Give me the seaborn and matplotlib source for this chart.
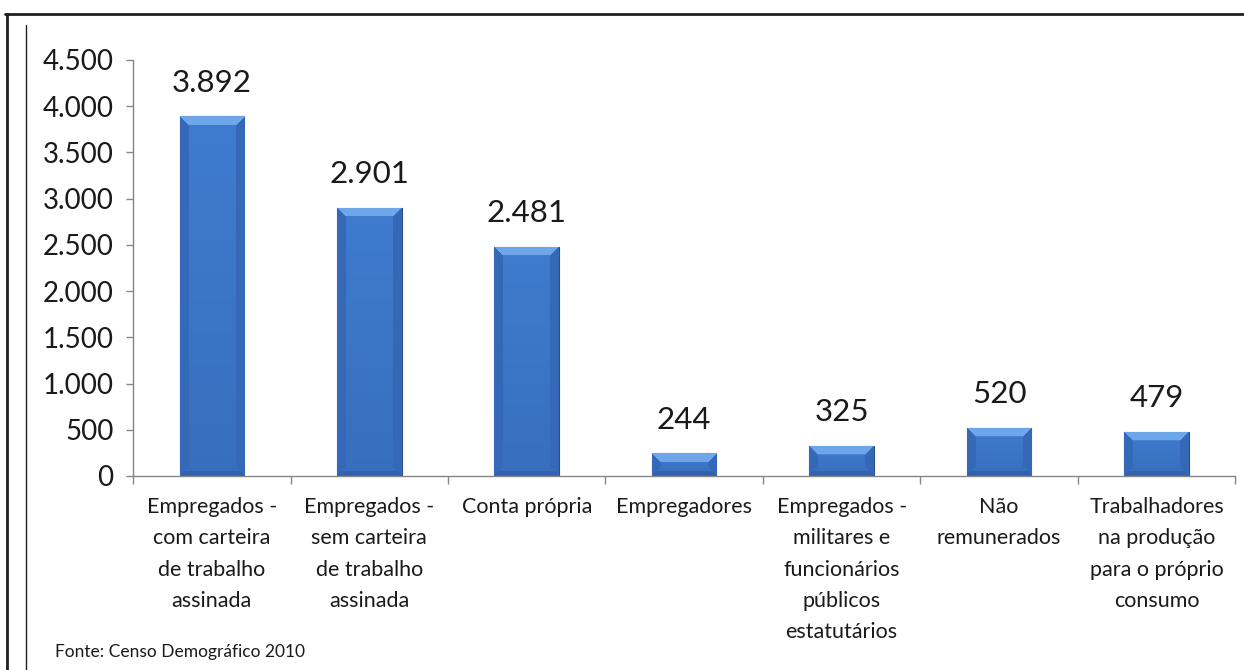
import numpy as np
import pandas as pd
import matplotlib
matplotlib.use("Agg")
import matplotlib.pyplot as plt
import seaborn as sns
from matplotlib.ticker import FuncFormatter, FixedLocator
from matplotlib.lines import Line2D
from matplotlib.colors import to_rgb

# dados (Censo 2010)
categorias = [
    "Empregados -\ncom carteira\nde trabalho\nassinada",
    "Empregados -\nsem carteira\nde trabalho\nassinada",
    "Conta própria",
    "Empregadores",
    "Empregados -\nmilitares e\nfuncionários\npúblicos\nestatutários",
    "Não\nremunerados",
    "Trabalhadores\nna produção\npara o próprio\nconsumo",
]
valores = [3892, 2901, 2481, 244, 325, 520, 479]
yticks = [0, 500, 1000, 1500, 2000, 2500, 3000, 3500, 4000, 4500]


def milhar(v):
    return f"{int(round(v)):,}".replace(",", ".")


sns.set_style("white")
plt.rcParams["font.family"] = ["Lato", "DejaVu Sans"]

fig = plt.figure(figsize=(12.44, 6.70), dpi=100)
ax = fig.add_axes([0.107, 0.2896, 0.886, 0.621])

df = pd.DataFrame({"categoria": categorias, "valor": valores})
sns.barplot(data=df, x="categoria", y="valor", color="#3a72c0",
            saturation=1, width=0.41, ax=ax)

ax.set_xlim(-0.5, len(categorias) - 0.5)
ax.set_ylim(0, 4500)
ax.set_xlabel("")
ax.set_ylabel("")

# eixos
for s in ["top", "right"]:
    ax.spines[s].set_visible(False)
for s in ["left", "bottom"]:
    ax.spines[s].set_color("#868686")
    ax.spines[s].set_linewidth(1.0)

ax.yaxis.set_major_locator(FixedLocator(yticks))
ax.yaxis.set_major_formatter(FuncFormatter(lambda v, p: milhar(v)))
ax.tick_params(axis="y", which="major", left=True, length=5, width=1,
               color="#868686", pad=9, labelsize=20, labelcolor="#1a1a1a")
ax.set_xticks(np.arange(len(categorias)))
ax.set_xticks(np.arange(len(categorias) + 1) - 0.5, minor=True)
ax.tick_params(axis="x", which="major", length=0, pad=15,
               labelsize=15.5, labelcolor="#1a1a1a")
ax.tick_params(axis="x", which="minor", bottom=True, length=6, width=1,
               color="#868686")
for lbl in ax.get_xticklabels():
    lbl.set_linespacing(1.71)
    lbl.set_verticalalignment("top")

# rotulos de valor
cont = ax.containers[0]
ax.bar_label(cont, labels=[milhar(v) for v in valores], padding=14,
             fontsize=22.5, color="#1a1a1a")

# efeito chanfrado nas barras
fig.canvas.draw()
base = np.array(to_rgb("#3b74c4"))
topo = np.array(to_rgb("#6ea6ea"))
lado = np.array(to_rgb("#3569b8"))
baixo = np.array(to_rgb("#3262ad"))
for p in cont.patches:
    bb = p.get_window_extent()
    w = max(int(round(bb.width)), 2)
    h = max(int(round(bb.height)), 2)
    b = 9
    ii, jj = np.mgrid[0:h, 0:w]
    grad = (ii / max(h - 1, 1))[..., None]
    img = base * (1.06 - 0.10 * grad)
    left = (jj < b) & (ii > jj) & (ii < h - 1 - jj)
    right = (jj >= w - b) & (ii > w - 1 - jj) & (ii < h - 1 - (w - 1 - jj))
    top = (ii < b) & (jj >= ii) & (jj <= w - 1 - ii)
    bot = (ii >= h - 5) & (jj >= h - 1 - ii) & (jj <= w - 1 - (h - 1 - ii))
    img[left] = lado
    img[right] = lado
    img[bot] = baixo
    img[top] = topo
    img = np.clip(img, 0, 1)
    x0, y0 = p.get_x(), p.get_y()
    im = ax.imshow(img, extent=(x0, x0 + p.get_width(), y0, y0 + p.get_height()),
                   aspect="auto", interpolation="bilinear", zorder=p.get_zorder() + 0.1)
    im.set_clip_path(p)
    p.set_edgecolor("#2a4f88")
    p.set_linewidth(0.8)

ax.set_xlim(-0.5, len(categorias) - 0.5)
ax.set_ylim(0, 4500)

# moldura
fig.add_artist(Line2D([0.004, 1.0], [0.979, 0.979], color="#202020", lw=2))
fig.add_artist(Line2D([0.006, 0.006], [0.979, 0.0], color="#202020", lw=2))
fig.add_artist(Line2D([0.021, 0.021], [0.963, 0.0], color="#202020", lw=1))

fig.text(55 / 1244, 1 - 652 / 670, "Fonte: Censo Demográfico 2010",
         fontsize=12.5, va="center", color="#1a1a1a")

fig.savefig("out.png", dpi=100)
